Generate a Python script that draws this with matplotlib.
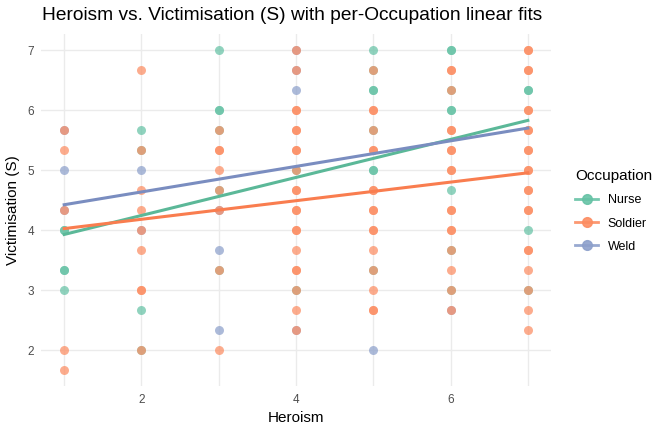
import numpy as np
import matplotlib
matplotlib.use('Agg')
from matplotlib import pyplot as plt
from matplotlib.lines import Line2D

plt.rcParams['font.family'] = ['Liberation Sans', 'DejaVu Sans']

# points (Victimisation is in thirds)
nurse_x = [1, 1, 1, 1, 1, 2, 2, 2, 2, 3, 3, 3, 3, 3, 3, 4, 4,
           5, 5, 5, 5, 5, 5, 5, 5, 6, 6, 6, 6, 6, 6, 6, 6, 7, 7, 7, 7]
nurse_y = [4, 4, 3.33, 3.33, 3, 5.67, 5.33, 2.67, 2, 7, 6, 6, 5.67, 4.67, 3.33, 5, 3,
           7, 6.67, 6.33, 6.33, 5.67, 5, 5, 3.33, 7, 7, 6.33, 6, 6, 4.67, 3.67, 3,
           6.33, 6.33, 4, 3]

soldier_x = [1]*5 + [2]*9 + [3]*8 + [4]*21 + [5]*17 + [6]*17 + [7]*22
soldier_y = [5.67, 5.33, 4.33, 2, 1.67,
             6.67, 5.33, 4.67, 4.33, 4, 3.67, 3, 3, 2,
             5.67, 5.33, 5.33, 5, 4.67, 4.33, 3.33, 2,
             7, 6.67, 6, 6, 5.67, 5.67, 5.33, 5.33, 5, 4.67, 4.67, 4.33, 4.33, 4, 4,
             3.67, 3.33, 3.33, 3, 2.67, 2.33,
             6.67, 6, 6, 5.67, 5.33, 5.33, 4.67, 4.67, 4.33, 4.33, 4, 4, 3.67, 3.33,
             3, 2.67, 2.67,
             6.67, 6.67, 6.33, 5.67, 5.67, 5.33, 5.33, 5, 5, 4.33, 4.33, 4, 4, 3.67,
             3.33, 3, 2.67,
             7, 7, 6.67, 6.67, 6, 6, 5.67, 5.67, 5.33, 5.33, 5, 5, 4.67, 4.67, 4.33,
             4.33, 3.67, 3.67, 3.33, 3, 2.67, 2.33]

weld_x = [1, 1, 1, 2, 2, 3, 3, 3, 4, 4, 4, 4, 5, 6]
weld_y = [5.67, 5, 4.33, 5, 4, 4.33, 3.67, 2.33, 7, 6.67, 6.33, 2.33, 2, 2.67]

# linear fit coefficients (slope, intercept)
nurse_fit = [0.317, 3.61]
soldier_fit = [0.155, 3.87]
weld_fit = [0.213, 4.21]

groups = ['Nurse', 'Soldier', 'Weld']
colors = {'Nurse': '#66c2a5', 'Soldier': '#fc8d62', 'Weld': '#8da0cb'}
line_colors = {'Nurse': '#5bb898', 'Soldier': '#f97d4f', 'Weld': '#7a8dc0'}

fig = plt.figure(figsize=(6.72, 4.32), dpi=100)
ax = fig.add_axes([41/672, 1 - 386/432, (551-41)/672, (386-34)/432])

pts = {'Nurse': (nurse_x, nurse_y), 'Soldier': (soldier_x, soldier_y), 'Weld': (weld_x, weld_y)}
fits = {'Nurse': nurse_fit, 'Soldier': soldier_fit, 'Weld': weld_fit}

for g in ['Weld', 'Nurse', 'Soldier']:
    x, y = pts[g]
    ax.scatter(x, y, s=42, color=colors[g], alpha=0.72, linewidths=0, zorder=3)

xx = np.array([1, 7])
for g in groups:
    ax.plot(xx, np.polyval(fits[g], xx), color=line_colors[g], lw=2.2, zorder=4)

ax.set_xlim(0.7, 7.3)
ax.set_ylim(1.4, 7.27)
ax.set_xticks([2, 4, 6])
ax.set_xticks([1, 3, 5, 7], minor=True)
ax.set_yticks([2, 3, 4, 5, 6, 7])
ax.grid(True, which='both', color='#ebebeb', lw=1.0, zorder=0)
ax.set_axisbelow(True)
for sp in ax.spines.values():
    sp.set_visible(False)
ax.tick_params(which='both', length=0, labelsize=8.5, colors='#4d4d4d', pad=6)
ax.tick_params(axis='y', pad=5)

ax.set_xlabel('Heroism', fontsize=11, labelpad=3)
ax.set_ylabel('Victimisation (S)', fontsize=11, labelpad=5)
fig.text(42/672, 1 - 15/432, 'Heroism vs. Victimisation (S) with per-Occupation linear fits',
         ha='left', va='center', fontsize=13.8)

handles = [Line2D([0], [0], color=colors[g], lw=2, marker='o', markersize=7, alpha=0.9)
           for g in groups]
leg = fig.legend(handles, groups, title='Occupation', loc='upper left',
                 bbox_to_anchor=(564/672, 1 - 158/432), frameon=False,
                 fontsize=9, title_fontsize=11, handlelength=1.8,
                 labelspacing=0.9)
leg._legend_box.align = 'left'
leg._legend_box.sep = 8

fig.savefig('out.png', dpi=100)
